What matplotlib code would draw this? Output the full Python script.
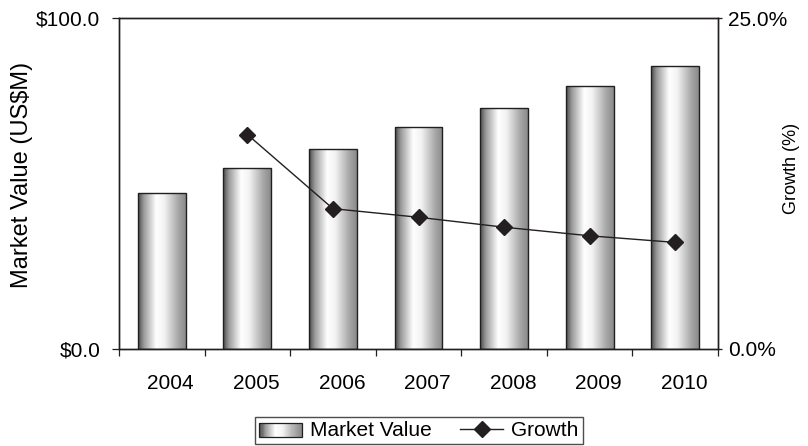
import matplotlib

matplotlib.use("Agg")
import matplotlib.pyplot as plt
import matplotlib.transforms as mtransforms
import numpy as np
from matplotlib.colors import LinearSegmentedColormap
from matplotlib.container import BarContainer
from matplotlib.legend_handler import HandlerBase
from matplotlib.lines import Line2D
from matplotlib.patches import Rectangle

plt.rcParams["font.family"] = ["Liberation Sans", "DejaVu Sans"]

years = ["2004", "2005", "2006", "2007", "2008", "2009", "2010"]
market_value = [47.1, 54.8, 60.5, 67.0, 72.9, 79.4, 85.4]
growth_years = ["2005", "2006", "2007", "2008", "2009", "2010"]
growth_pct = [16.2, 10.6, 9.95, 9.2, 8.55, 8.05]

# cylinder-style shading: dark left, bright highlight, mid-grey right
BAR_CMAP = LinearSegmentedColormap.from_list(
    "cyl",
    [(0.0, "#4a4a4a"), (0.12, "#9a9a9a"), (0.38, "#ffffff"), (0.55, "#f2f2f2"),
     (0.85, "#a5a5a5"), (1.0, "#8a8a8a")],
)
EDGE = "#231f20"
W, H = 808, 446


class GradientHandler(HandlerBase):
    def create_artists(self, legend, orig_handle, xdescent, ydescent, width, height, fontsize, trans):
        artists = []
        n = 40
        for i in range(n):
            r = Rectangle((xdescent + width * i / n, ydescent), width / n + 0.3, height,
                          facecolor=BAR_CMAP(i / (n - 1)), edgecolor="none", transform=trans)
            artists.append(r)
        artists.append(Rectangle((xdescent, ydescent), width, height, facecolor="none",
                                 edgecolor=EDGE, linewidth=0.9, transform=trans))
        return artists


fig = plt.figure(figsize=(W / 100, H / 100), dpi=100)
ax = fig.add_axes([119 / W, 1 - 349 / H, (718 - 119) / W, (349 - 18) / H])

x = np.arange(len(years))
bar_w = 0.56
grad = np.linspace(0, 1, 256).reshape(1, -1)
bars = ax.bar(x, market_value, width=bar_w, facecolor="none", edgecolor=EDGE, linewidth=1.0, zorder=3)
for b in bars:
    x0, y0, w, h = b.get_x(), b.get_y(), b.get_width(), b.get_height()
    im = ax.imshow(grad, cmap=BAR_CMAP, extent=(x0, x0 + w, y0, y0 + h), aspect="auto", zorder=2,
                   interpolation="bicubic")
    im.set_clip_path(b)

ax.set_xlim(-0.5, len(years) - 0.5)
ax.set_ylim(0, 100)
ax.set_yticks([0, 100])
ax.set_yticklabels(["$0.0", "$100.0"])
ax.set_xticks(x)
ax.set_xticklabels(years)
ax.set_xticks(np.arange(-0.5, len(years), 1.0), minor=True)
ax.tick_params(axis="x", which="major", length=0, pad=18, labelsize=15)
ax.tick_params(axis="x", which="minor", length=5, direction="out", width=0.9, color=EDGE)
ax.tick_params(axis="y", length=5, direction="out", width=0.9, pad=8.5, labelsize=15, color=EDGE)
shift = mtransforms.ScaledTranslation(9 / 100, 0, fig.dpi_scale_trans)
for lbl in ax.get_xticklabels():
    lbl.set_transform(lbl.get_transform() + shift)
ax.set_ylabel("Market Value (US$M)", fontsize=17, va="center")
ax.yaxis.set_label_coords((22 - 119) / 599, (349 - 174.5) / 331)
for s in ax.spines.values():
    s.set_color(EDGE)
    s.set_linewidth(1.0)

ax2 = ax.twinx()
gx = [years.index(y) for y in growth_years]
ax2.plot(gx, growth_pct, color=EDGE, linewidth=1.0, marker="D", markersize=8, zorder=5)
ax2.set_ylim(0, 25)
ax2.set_yticks([0, 25])
ax2.set_yticklabels(["0.0%", "25.0%"])
ax2.tick_params(axis="y", length=3, direction="out", width=0.9, pad=4, labelsize=15, color=EDGE)
ax2.set_ylabel("Growth (%)", fontsize=13, va="center")
ax2.yaxis.set_label_coords((792 - 119) / 599, (349 - 168) / 331)
for s in ax2.spines.values():
    s.set_color(EDGE)
    s.set_linewidth(1.0)

line_handle = Line2D([], [], color=EDGE, linewidth=1.0, marker="D", markersize=8)
fig.legend([bars, line_handle], ["Market Value", "Growth"],
           handler_map={BarContainer: GradientHandler()},
           loc="center", bbox_to_anchor=(419 / W, 1 - 430.5 / H), ncol=2,
           frameon=True, fancybox=False, edgecolor=EDGE, fontsize=15,
           handlelength=2.05, handleheight=0.6, columnspacing=1.35, handletextpad=0.4,
           borderpad=0.2, borderaxespad=0)

fig.savefig("out.png", dpi=100)
